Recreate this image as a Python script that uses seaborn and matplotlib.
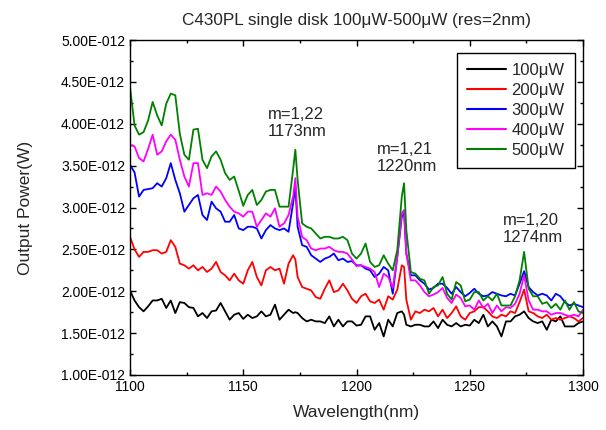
import matplotlib
matplotlib.use("Agg")
import matplotlib.pyplot as plt
import seaborn as sns
import pandas as pd
from matplotlib.ticker import FuncFormatter, MultipleLocator

wavelength = [1100, 1102, 1104, 1106, 1108, 1110, 1112, 1114, 1116, 1118,
              1120, 1122, 1124, 1126, 1128, 1130, 1132, 1134, 1136, 1138,
              1140, 1142, 1144, 1146, 1148, 1150, 1152, 1154, 1156, 1158,
              1160, 1162, 1164, 1166, 1168, 1170, 1172, 1173, 1174, 1176,
              1178, 1180, 1182, 1184, 1186, 1188, 1190, 1192, 1194, 1196,
              1198, 1200, 1202, 1204, 1206, 1208, 1210, 1212, 1214, 1216,
              1218, 1220, 1221, 1222, 1224, 1226, 1228, 1230, 1232, 1234,
              1236, 1238, 1240, 1242, 1244, 1246, 1248, 1250, 1252, 1254,
              1256, 1258, 1260, 1262, 1264, 1266, 1268, 1270, 1272, 1274,
              1276, 1278, 1280, 1282, 1284, 1286, 1288, 1290, 1292, 1294,
              1296, 1298, 1300]

# values in units of 1e-12 W
p100 = [2.01, 1.89, 1.81, 1.76, 1.82, 1.89, 1.89, 1.91, 1.80, 1.89,
        1.74, 1.87, 1.86, 1.81, 1.80, 1.70, 1.74, 1.68, 1.76, 1.77,
        1.86, 1.76, 1.66, 1.72, 1.74, 1.67, 1.72, 1.68, 1.70, 1.76,
        1.70, 1.72, 1.84, 1.66, 1.72, 1.78, 1.74, 1.75, 1.74, 1.68,
        1.64, 1.66, 1.64, 1.64, 1.62, 1.70, 1.58, 1.66, 1.58, 1.64,
        1.64, 1.59, 1.60, 1.70, 1.70, 1.54, 1.62, 1.46, 1.66, 1.58,
        1.74, 1.76, 1.72, 1.60, 1.58, 1.60, 1.60, 1.58, 1.58, 1.64,
        1.56, 1.66, 1.60, 1.58, 1.62, 1.58, 1.60, 1.59, 1.66, 1.62,
        1.72, 1.58, 1.64, 1.58, 1.46, 1.64, 1.64, 1.70, 1.72, 1.76,
        1.68, 1.64, 1.62, 1.64, 1.54, 1.66, 1.64, 1.70, 1.58, 1.58,
        1.58, 1.62, 1.64]

p200 = [2.65, 2.50, 2.41, 2.47, 2.47, 2.49, 2.49, 2.45, 2.47, 2.61,
        2.53, 2.33, 2.31, 2.27, 2.31, 2.25, 2.29, 2.23, 2.27, 2.35,
        2.23, 2.19, 2.13, 2.21, 2.13, 2.09, 2.25, 2.35, 2.17, 2.07,
        2.25, 2.29, 2.25, 2.27, 2.09, 2.33, 2.43, 2.38, 2.17, 2.05,
        2.03, 2.01, 1.93, 1.91, 2.03, 2.13, 1.99, 2.01, 2.09, 2.01,
        1.91, 1.86, 1.94, 1.97, 1.88, 1.86, 1.90, 1.78, 1.94, 1.90,
        2.02, 2.31, 2.29, 1.90, 1.66, 1.76, 1.74, 1.78, 1.76, 1.80,
        1.70, 1.78, 1.68, 1.74, 1.82, 1.70, 1.66, 1.74, 1.76, 1.81,
        1.81, 1.76, 1.70, 1.68, 1.72, 1.70, 1.76, 1.74, 1.87, 2.02,
        1.76, 1.74, 1.70, 1.68, 1.72, 1.66, 1.68, 1.66, 1.68, 1.70,
        1.68, 1.64, 1.68]

p300 = [3.51, 3.42, 3.13, 3.21, 3.22, 3.23, 3.29, 3.25, 3.35, 3.53,
        3.33, 3.17, 2.95, 3.03, 3.11, 3.15, 2.91, 2.85, 3.07, 2.99,
        2.95, 2.83, 2.83, 2.91, 2.75, 2.73, 2.77, 2.77, 2.75, 2.63,
        2.73, 2.79, 2.75, 2.73, 2.75, 2.71, 3.05, 3.25, 2.77, 2.55,
        2.53, 2.43, 2.39, 2.35, 2.39, 2.41, 2.45, 2.37, 2.39, 2.35,
        2.36, 2.31, 2.31, 2.27, 2.25, 2.17, 2.21, 2.29, 2.25, 1.97,
        2.41, 2.89, 2.93, 2.45, 2.19, 2.19, 2.13, 2.09, 2.02, 2.04,
        2.09, 2.09, 2.04, 1.97, 2.05, 1.99, 1.94, 1.98, 2.03, 1.97,
        1.94, 1.95, 1.99, 1.97, 1.95, 1.94, 1.97, 1.95, 2.09, 2.24,
        2.05, 1.99, 1.95, 1.97, 1.95, 1.89, 1.97, 1.94, 1.87, 1.83,
        1.85, 1.83, 1.81]

p400 = [3.75, 3.73, 3.59, 3.55, 3.70, 3.87, 3.63, 3.67, 3.79, 3.87,
        3.81, 3.57, 3.37, 3.25, 3.53, 3.53, 3.15, 3.17, 3.15, 3.25,
        3.19, 3.09, 3.01, 2.95, 2.93, 2.89, 2.95, 2.95, 2.77, 2.85,
        2.93, 2.89, 2.99, 2.77, 2.81, 2.91, 3.13, 3.35, 2.89, 2.65,
        2.61, 2.51, 2.49, 2.51, 2.51, 2.53, 2.49, 2.47, 2.47, 2.45,
        2.38, 2.30, 2.31, 2.29, 2.27, 2.23, 2.05, 2.21, 2.17, 2.04,
        2.41, 2.93, 2.97, 2.45, 2.13, 2.13, 2.07, 1.99, 1.94, 1.96,
        1.99, 2.04, 1.92, 1.86, 1.96, 1.92, 1.82, 1.83, 1.78, 1.89,
        1.80, 1.85, 1.74, 1.83, 1.76, 1.81, 1.80, 1.85, 1.97, 2.19,
        1.89, 1.78, 1.78, 1.76, 1.76, 1.72, 1.74, 1.74, 1.72, 1.70,
        1.72, 1.70, 1.78]

p500 = [4.44, 3.98, 3.87, 3.90, 4.04, 4.26, 4.10, 3.98, 4.24, 4.36,
        4.34, 3.88, 3.63, 3.57, 3.93, 3.94, 3.57, 3.47, 3.61, 3.67,
        3.57, 3.41, 3.33, 3.37, 3.20, 3.02, 3.15, 3.21, 3.03, 3.09,
        3.19, 3.21, 3.21, 3.01, 3.01, 3.01, 3.45, 3.69, 3.33, 2.81,
        2.77, 2.75, 2.69, 2.63, 2.65, 2.65, 2.63, 2.63, 2.65, 2.61,
        2.45, 2.39, 2.45, 2.57, 2.35, 2.29, 2.31, 2.43, 2.33, 2.25,
        2.49, 3.13, 3.29, 2.73, 2.23, 2.21, 2.15, 2.13, 1.97, 2.05,
        2.07, 2.17, 1.97, 1.90, 2.11, 2.07, 1.88, 1.90, 1.99, 1.99,
        1.89, 1.94, 1.89, 1.97, 1.83, 1.83, 1.83, 1.94, 2.13, 2.47,
        2.03, 1.94, 1.94, 1.85, 1.87, 1.80, 1.85, 1.78, 1.89, 1.78,
        1.87, 1.76, 1.74]

series_labels = ["100\u03bcW", "200\u03bcW", "300\u03bcW", "400\u03bcW", "500\u03bcW"]
series_colors = ["#000000", "#FF0000", "#0000FF", "#FF00FF", "#008000"]
x_ticks = [1100, 1150, 1200, 1250, 1300]
y_ticks = [1.0, 1.5, 2.0, 2.5, 3.0, 3.5, 4.0, 4.5, 5.0]
annotations = [("m=1,22\n1173nm", 1160.9, 4.01),
               ("m=1,21\n1220nm", 1209.0, 3.59),
               ("m=1,20\n1274nm", 1264.7, 2.74)]

frames = []
for lab, vals in zip(series_labels, [p100, p200, p300, p400, p500]):
    frames.append(pd.DataFrame({"Wavelength": wavelength,
                                "Power": [v * 1e-12 for v in vals],
                                "Series": lab}))
df = pd.concat(frames, ignore_index=True)

sns.set_style("ticks")
plt.rcParams["font.family"] = ["Liberation Sans", "DejaVu Sans"]

fig = plt.figure(figsize=(6.06, 4.30), dpi=100)
ax = fig.add_axes([130 / 606, 1 - 375 / 430, 453 / 606, 335 / 430])

sns.lineplot(data=df, x="Wavelength", y="Power", hue="Series",
             hue_order=series_labels, palette=series_colors,
             linewidth=1.3, ax=ax, estimator=None, sort=False)

ax.set_xlim(1100, 1300)
ax.set_ylim(1.0e-12, 5.0e-12)
ax.set_xticks(x_ticks)
ax.set_yticks([t * 1e-12 for t in y_ticks])
ax.xaxis.set_minor_locator(MultipleLocator(25))
ax.yaxis.set_minor_locator(MultipleLocator(0.25e-12))


def sci_fmt(v, pos):
    m, e = f"{v:.2E}".split("E")
    return f"{m}E{int(e):+04d}"


ax.yaxis.set_major_formatter(FuncFormatter(sci_fmt))
ax.tick_params(axis="both", which="both", direction="in", top=True, right=True,
               labelsize=10, colors="black")
ax.tick_params(which="major", length=4, width=1)
ax.tick_params(which="minor", length=2.5, width=1)
for sp in ax.spines.values():
    sp.set_visible(True)
    sp.set_color("black")
    sp.set_linewidth(1.0)

ax.set_xlabel("Wavelength(nm)", fontsize=12.5, labelpad=8)
ax.set_ylabel("Output Power(W)", fontsize=12.5, labelpad=20)
ax.set_title("C430PL single disk 100\u03bcW-500\u03bcW (res=2nm)", fontsize=12.3, pad=11)

for txt, xx, yy in annotations:
    ax.text(xx, yy * 1e-12, txt, fontsize=12, ha="left", va="center",
            linespacing=1.15)

leg = ax.legend(loc="upper right", bbox_to_anchor=(0.982, 0.961), fontsize=12,
                frameon=True, fancybox=False, framealpha=1, edgecolor="black",
                handlelength=2.3, handletextpad=0.35, labelspacing=0.3,
                borderpad=0.6, borderaxespad=0)
leg.get_frame().set_linewidth(1.0)
for line in leg.get_lines():
    line.set_linewidth(1.5)

fig.savefig("out.png", dpi=100)
